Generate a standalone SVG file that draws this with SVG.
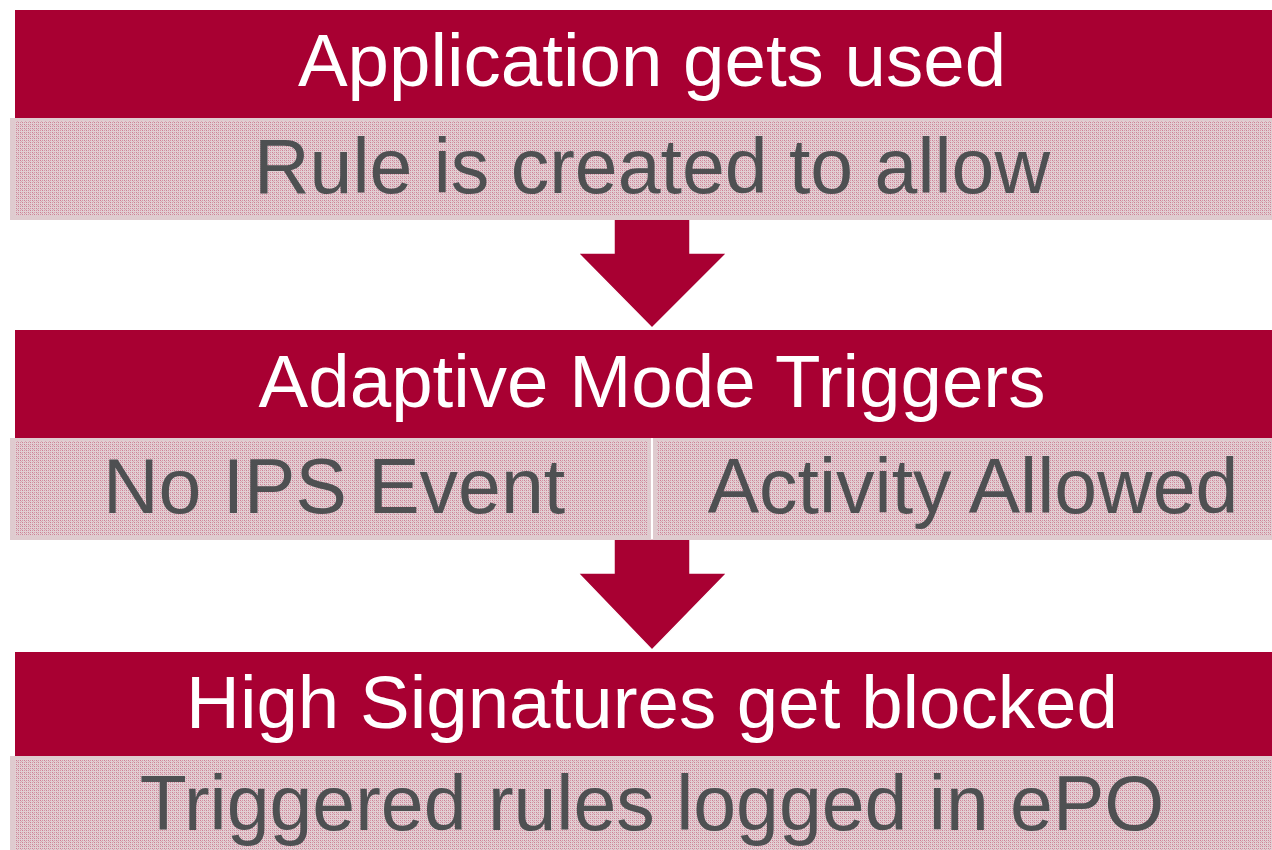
<svg xmlns="http://www.w3.org/2000/svg" width="1272" height="850" viewBox="0 0 1272 850">
  <defs>
    <!-- fine dotted texture for the light bands -->
    <pattern id="dots" x="0" y="0" width="4" height="4" patternUnits="userSpaceOnUse">
      <rect width="4" height="4" fill="#e1cfd3"/>
      <rect x="0" y="0" width="1" height="1" fill="#cd7f95"/>
      <rect x="2" y="0" width="1" height="1" fill="#d496a6"/>
      <rect x="1" y="1" width="1" height="1" fill="#d8aab5"/>
      <rect x="0" y="2" width="1" height="1" fill="#d496a6"/>
      <rect x="2" y="2" width="1" height="1" fill="#cd7f95"/>
    </pattern>
  </defs>
  <style>
    .head { fill: #a80032; }
    .band-edge { fill: #dfcbcf; }
    .band-fill { fill: url(#dots); }
    .title { font-family: "Liberation Sans", Arial, sans-serif; font-size: 74.5px; fill: #ffffff; text-anchor: middle; }
    .sub { font-family: "Liberation Sans", Arial, sans-serif; font-size: 77px; fill: #4e5052; text-anchor: middle; }
    .arrow { fill: #a80032; stroke: #ffffff; stroke-width: 1.5; }
  </style>
  <rect width="1272" height="850" fill="#ffffff"/>

  <g id="connectors">
    <polygon class="arrow" points="614,218 690,218 690,253 727,253 652,328 578,253 614,253"/>
    <polygon class="arrow" points="614,539 690,539 690,573 727,573 652,650 578,573 614,573"/>
  </g>

  <g id="step-usage">
    <rect class="head" x="15" y="10" width="1257" height="108"/>
    <text class="title" x="652" y="86">Application gets used</text>
    <rect class="band-edge" x="10" y="118" width="1262" height="102"/>
    <rect class="band-fill" x="15" y="121" width="1257" height="94"/>
    <text class="sub" x="652" y="193">Rule is created to allow</text>
  </g>

  <g id="step-adaptive">
    <rect class="head" x="15" y="330" width="1257" height="108"/>
    <text class="title" x="652" y="407">Adaptive Mode Triggers</text>
    <rect class="band-edge" x="10" y="438" width="641" height="102"/>
    <rect class="band-fill" x="15" y="441" width="632" height="94"/>
    <text class="sub" x="334" y="513">No IPS Event</text>
    <rect class="band-edge" x="653" y="438" width="619" height="102"/>
    <rect class="band-fill" x="657" y="441" width="615" height="94"/>
    <text class="sub" x="973" y="513">Activity Allowed</text>
  </g>

  <g id="step-block">
    <rect class="head" x="15" y="652" width="1257" height="104"/>
    <text class="title" x="652" y="728">High Signatures get blocked</text>
    <rect class="band-edge" x="10" y="756" width="1262" height="94"/>
    <rect class="band-fill" x="15" y="759" width="1257" height="91"/>
    <text class="sub" x="652" y="830">Triggered rules logged in ePO</text>
  </g>
</svg>
